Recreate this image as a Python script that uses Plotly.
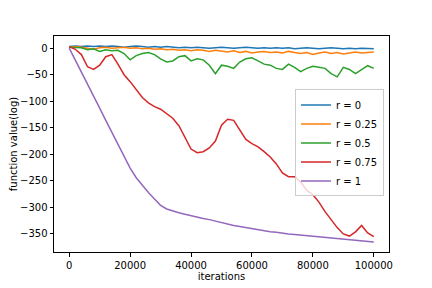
import plotly.graph_objects as go

iterations = list(range(0, 100001, 2000))

r0 = [3, 4, 3, 4, 3, 4, 3, 4, 3, 2, 3, 4, 3, 2, 3, 2, 3, 2, 1, 2, 1, 2, 1, 0, 1, 2,
      1, 0, 1, 2, 1, 0, 1, 0, 1, 0, 1, -1, 0, 1, 0, -1, 0, 1, 0, -1, 0, -1, 0, -1, -1]
r025 = [2, 3, 2, 0, -2, 1, 2, 0, 1, 2, 0, 1, -1, 0, -2, -1, -3, -2, -4, -3, -5, -3, -4, -6, -4, -5,
        -7, -5, -8, -6, -9, -7, -6, -8, -7, -9, -6, -8, -10, -8, -12, -9, -7, -10, -8, -11, -9, -7, -9, -8, -7]
r05 = [2, 2, 1, -3, -1, -6, -3, -5, -4, -10, -22, -14, -10, -8, -12, -20, -26, -24, -16, -14, -24, -20, -22, -32, -48, -32,
       -34, -38, -26, -20, -18, -24, -30, -32, -38, -40, -30, -36, -44, -38, -34, -36, -38, -48, -54, -36, -40, -48, -40, -33, -38]
r075 = [3, -2, -12, -35, -40, -32, -16, -12, -30, -50, -63, -78, -93, -103, -110, -115, -124, -132, -146, -168, -190, -197, -195, -188, -175, -145,
        -134, -136, -155, -172, -180, -186, -195, -205, -218, -235, -242, -242, -252, -268, -276, -290, -308, -323, -338, -350, -354, -346, -334, -348, -355]
r1 = [0, -22, -45, -68, -90, -113, -136, -159, -182, -204, -226, -244, -259, -272, -284, -296, -303, -307, -310, -313, -316, -319, -321, -323, -326, -329,
      -331, -334, -336, -338, -341, -343, -345, -346, -347, -349, -350, -351, -352, -353, -355, -356, -357, -358, -359, -360, -361, -362, -363, -364, -365]

labels = ["r = 0", "r = 0.25", "r = 0.5", "r = 0.75", "r = 1"]
colors = ["#1f77b4", "#ff7f0e", "#2ca02c", "#d62728", "#9467bd"]
series = [r0, r025, r05, r075, r1]

fig = go.Figure()
for lab, col, ys in zip(labels, colors, series):
    fig.add_trace(go.Scatter(x=iterations, y=ys, mode="lines", name=lab,
                             line=dict(color=col, width=1.5)))

axis_common = dict(showline=True, linecolor="black", linewidth=1, mirror=True,
                   ticks="outside", ticklen=3.5, tickwidth=1, tickcolor="black",
                   showgrid=False, zeroline=False, automargin=False,
                   tickfont=dict(family="DejaVu Sans", size=10, color="black"))

fig.update_layout(
    width=424, height=280,
    margin=dict(l=46, r=43, t=28, b=36),
    paper_bgcolor="white", plot_bgcolor="white",
    font=dict(family="DejaVu Sans", size=10, color="black"),
    xaxis=dict(range=[-5000, 105000], tickvals=[0, 20000, 40000, 60000, 80000, 100000],
               tickformat="d", title=dict(text="iterations", standoff=2,
                                          font=dict(family="DejaVu Sans", size=10)),
               **axis_common),
    yaxis=dict(range=[-384, 23], tickvals=[0, -50, -100, -150, -200, -250, -300, -350],
               title=dict(text="function value(log)", standoff=4,
                          font=dict(family="DejaVu Sans", size=10)),
               **axis_common),
    legend=dict(x=0.985, y=0.505, xanchor="right", yanchor="middle",
                bgcolor="rgba(255,255,255,0.8)", bordercolor="#cccccc", borderwidth=1,
                font=dict(family="DejaVu Sans", size=10), tracegroupgap=0,
                itemwidth=30),
    showlegend=True,
)

fig.write_html("out.html")
